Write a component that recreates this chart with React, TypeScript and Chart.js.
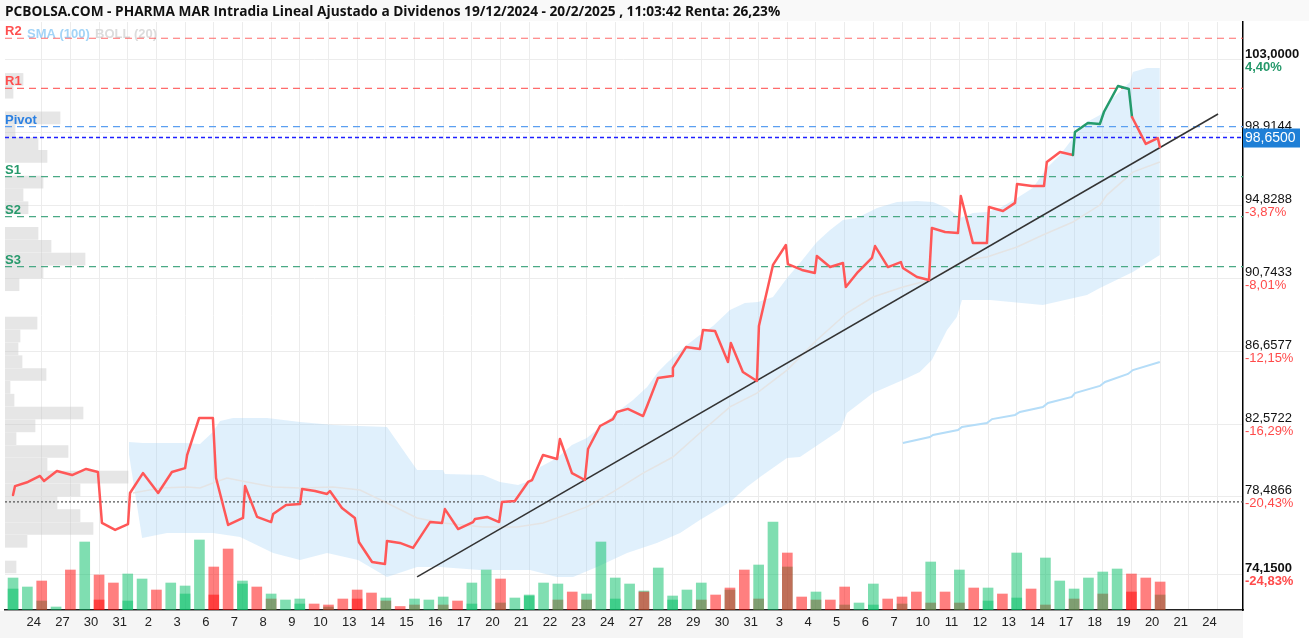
import React, { useEffect, useRef } from 'react';
import { Chart, registerables } from 'chart.js';

Chart.register(...registerables);

const W = 1309;
const H = 638;
const FONT = 'Arial, "Liberation Sans", sans-serif';

const TITLE = 'PCBOLSA.COM - PHARMA MAR Intradia Lineal Ajustado a Dividenos 19/12/2024 - 20/2/2025 , 11:03:42 Renta: 26,23%';
const LEGEND_ITEMS = ['SMA (100)', 'BOLL (20)'];

const DAY_LABELS = ['24', '27', '30', '31', '2', '3', '6', '7', '8', '9', '10', '13', '14', '15', '16', '17', '20', '21', '22', '23', '24', '27', '28', '29', '30', '31', '3', '4', '5', '6', '7', '10', '11', '12', '13', '14', '17', '18', '19', '20', '21', '24'];

const PRICE_TICKS = [103.0, 98.9144, 94.8288, 90.7433, 86.6577, 82.5722, 78.4866, 74.15];
const PRICE_TICK_LABELS = ['103,0000', '98,9144', '94,8288', '90,7433', '86,6577', '82,5722', '78,4866', '74,1500'];
const PCT_LABELS = ['4,40%', '0,27%', '-3,87%', '-8,01%', '-12,15%', '-16,29%', '-20,43%', '-24,83%'];
const LAST_PRICE = 98.65;
const LAST_PRICE_LABEL = '98,6500';

const X_MIN = -0.28;
const X_MAX = 42.89;
const Y_MIN = 72.136;
const Y_MAX = 105.132;

const PRICE_X = [0.00, 0.07, 0.52, 0.94, 1.08, 1.53, 2.06, 2.55, 2.96, 3.10,
  3.56, 4.01, 4.08, 4.53, 5.06, 5.54, 6.00, 6.07, 6.49, 6.97,
  7.08, 7.50, 8.02, 8.09, 8.51, 9.00, 9.07, 9.52, 10.01, 10.08,
  10.53, 10.95, 11.05, 11.47, 11.92, 12.06, 12.52, 12.97, 13.04, 13.49,
  13.95, 14.54, 14.96, 15.06, 15.52, 16.04, 16.11, 16.53, 16.95, 17.05,
  17.50, 17.96, 18.10, 18.48, 18.97, 19.07, 19.49, 19.94, 20.05, 20.47,
  20.92, 21.06, 21.44, 21.97, 22.11, 22.49, 22.98, 23.01, 23.47, 23.95,
  24.06, 24.48, 24.93, 25.03, 25.45, 25.94, 26.01, 26.50, 26.95, 27.02,
  27.51, 27.96, 28.03, 28.49, 28.94, 29.04, 29.46, 29.95, 30.06, 30.51,
  30.96, 31.03, 31.52, 31.94, 32.04, 32.50, 32.95, 33.05, 33.47, 33.96,
  34.03, 34.52, 34.94, 35.01, 35.53, 35.95, 36.05, 36.51, 36.96, 37.03,
  37.48, 37.90, 38.04, 38.53, 38.91, 39.02, 39.50, 39.92, 39.99];
const PRICE_Y = [78.59, 79.09, 79.32, 79.66, 79.38, 79.94, 79.71, 80.05, 79.88, 77.02,
  76.63, 76.96, 78.70, 79.82, 78.70, 79.88, 80.10, 80.83, 82.91, 82.91,
  79.54, 76.91, 77.30, 79.09, 77.36, 77.07, 77.52, 78.03, 78.08, 78.93,
  78.81, 78.65, 78.81, 77.86, 77.30, 75.95, 74.83, 74.72, 76.01, 75.90,
  75.62, 77.07, 77.02, 77.80, 76.68, 77.07, 77.24, 77.36, 77.07, 78.20,
  78.25, 79.32, 79.43, 80.83, 80.61, 81.73, 79.82, 79.43, 81.17, 82.46,
  82.85, 83.25, 83.42, 83.02, 83.58, 85.16, 85.27, 85.72, 86.89, 86.78,
  87.85, 87.79, 86.05, 87.12, 85.49, 84.99, 88.07, 91.50, 92.62, 91.55,
  91.22, 91.05, 92.00, 91.38, 91.61, 90.26, 91.10, 91.89, 92.56, 91.38,
  91.66, 91.33, 90.82, 90.65, 93.57, 93.35, 93.29, 95.37, 92.73, 92.73,
  94.75, 94.53, 94.98, 96.04, 95.93, 95.93, 97.28, 97.84, 97.67, 98.96,
  99.47, 99.41, 100.08, 101.54, 101.37, 99.80, 98.29, 98.62, 98.12];
const GREEN_FROM = 108;
const GREEN_TO = 114;

const BB_UP_X = [4.04, 4.53, 6.00, 6.52, 6.97, 7.22, 7.67, 8.86, 10.01, 11.16,
  13.04, 14.09, 14.99, 15.06, 16.39, 16.98, 17.61, 18.10, 18.38, 18.97,
  19.49, 20.01, 20.47, 21.06, 21.62, 22.11, 22.49, 22.80, 23.36, 23.95,
  24.41, 25.00, 25.52, 25.98, 26.50, 26.99, 27.44, 28.03, 28.49, 28.94,
  29.43, 30.13, 30.82, 31.52, 32.08, 32.57, 33.02, 33.47, 33.96, 34.41,
  35.01, 35.56, 36.05, 36.51, 36.96, 37.45, 37.90, 38.35, 38.95, 39.05,
  39.54, 39.99];
const BB_UP_Y = [81.56, 81.51, 81.51, 81.45, 82.12, 82.74, 82.91, 82.91, 82.69, 82.52,
  82.41, 79.99, 79.99, 79.77, 79.71, 79.32, 79.15, 79.43, 80.16, 80.67,
  81.40, 81.79, 82.41, 83.25, 83.92, 84.65, 85.49, 86.00, 86.84, 87.57,
  88.07, 88.97, 89.36, 89.42, 89.70, 90.77, 91.61, 92.79, 93.46, 94.02,
  94.13, 94.69, 95.03, 95.09, 95.03, 94.69, 94.13, 94.41, 94.47, 94.69,
  95.26, 95.82, 96.94, 97.67, 98.62, 99.52, 99.91, 100.87, 101.77, 102.33,
  102.55, 102.55];
const BB_LO_X = [4.04, 4.50, 5.37, 6.97, 7.92, 9.07, 10.01, 10.95, 12.03, 13.04,
  14.09, 14.89, 16.28, 18.03, 18.97, 19.53, 20.36, 21.41, 22.45, 23.26,
  23.95, 25.00, 25.59, 26.05, 26.99, 27.44, 28.84, 29.08, 29.99, 31.03,
  31.62, 32.04, 32.57, 32.91, 33.09, 34.07, 35.91, 37.45, 37.90, 39.05,
  39.99];
const BB_LO_Y = [80.90, 76.18, 76.46, 76.46, 76.23, 75.33, 74.94, 75.33, 74.94, 73.99,
  74.55, 74.55, 74.38, 74.38, 73.99, 73.99, 74.55, 75.33, 75.90, 76.46,
  77.19, 78.20, 79.04, 79.60, 80.67, 80.72, 82.24, 83.19, 84.31, 85.04,
  85.49, 86.17, 87.85, 88.58, 89.53, 89.53, 89.25, 89.81, 90.21, 91.10,
  92.06];
const BB_MID_X = [4.18, 5.13, 6.07, 6.52, 6.97, 7.46, 8.16, 9.07, 10.01, 11.16,
  12.10, 13.04, 14.09, 14.99, 16.39, 17.57, 18.48, 19.07, 20.01, 20.92,
  21.97, 23.01, 23.95, 25.00, 25.94, 26.99, 28.03, 29.08, 29.99, 31.03,
  31.97, 33.19, 33.96, 35.01, 35.91, 36.96, 37.90, 38.14, 39.05, 39.99];
const BB_MID_Y = [78.70, 78.98, 79.04, 78.98, 79.26, 79.54, 79.32, 79.04, 78.98, 79.04,
  78.87, 78.14, 77.30, 77.02, 76.79, 76.79, 77.02, 77.36, 77.92, 78.76,
  79.82, 80.72, 82.07, 83.53, 84.31, 85.60, 87.29, 88.80, 89.70, 90.26,
  90.65, 91.78, 91.95, 92.51, 93.18, 93.91, 94.86, 95.42, 96.71, 97.28];

const SMA_X = [31.03, 31.97, 32.08, 32.95, 33.09, 33.96, 34.14, 34.94, 35.11, 35.91, 36.09, 36.92, 37.03, 37.90, 38.08, 38.88, 39.05, 39.99];
const SMA_Y = [81.51, 81.84, 81.96, 82.24, 82.41, 82.63, 82.85, 83.08, 83.25, 83.53, 83.75, 84.09, 84.31, 84.71, 84.93, 85.38, 85.60, 86.05];

const TREND_X = [14.09, 42.02];
const TREND_Y = [73.99, 99.97];

const REF_LEVEL = 78.2;

const LEVEL_NAMES = ['R2', 'R1', 'Pivot', 'S1', 'S2', 'S3'];
const LEVEL_VALUES = [104.22, 101.41, 99.26, 96.45, 94.21, 91.40];
const LEVEL_LINE_COLORS = ['rgba(255,82,82,0.85)', 'rgba(255,82,82,0.85)', '#5b9ff0', '#4aa985', '#4aa985', '#4aa985'];
const LEVEL_TEXT_COLORS = ['#ff4f4f', '#ff4f4f', '#2b80e2', '#26996b', '#26996b', '#26996b'];

// half-day volume bars
const VOL_MAIN = [32, 23, 29, 3, 40, 68, 35, 27, 36, 31,
  20, 27, 24, 70, 43, 61, 29, 23, 16, 10,
  11, 6, 5, 11, 20, 17, 12, 3.5, 11, 10,
  13, 9, 27, 40, 31, 12, 15, 27, 26, 18,
  16, 68, 32, 26, 18, 42, 14, 20, 27, 15,
  22, 40, 45, 88, 57, 13, 18, 10, 23, 7,
  26, 11, 13, 18, 48, 18, 40, 22, 22, 16,
  57, 21, 52, 29, 21, 32, 38, 41, 36, 32,
  28];
const VOL_MAIN_UP = [1, 1, 0, 1, 0, 1, 0, 0, 1, 1,
  0, 1, 1, 1, 0, 0, 1, 0, 1, 1,
  1, 0, 0, 0, 0, 0, 1, 0, 1, 1,
  1, 0, 1, 1, 0, 1, 1, 1, 1, 0,
  1, 1, 1, 1, 0, 1, 1, 1, 1, 0,
  0, 0, 1, 1, 0, 0, 1, 0, 0, 1,
  1, 0, 0, 0, 1, 0, 1, 0, 1, 0,
  1, 0, 1, 1, 1, 1, 1, 1, 0, 0,
  0];
// opening volume per day
const VOL_OPEN = [21, 9, 0, 10, 9, 0, 16, 15, 26, 11,
  6, 3, 11, 9, 5, 5, 6, 7, 14, 10,
  10, 11, 19, 10, 10, 20, 11, 43, 10, 5,
  5, 6, 7, 7, 9, 12, 5, 11, 16, 18,
  15];
const VOL_OPEN_UP = [1, 1, 1, 0, 1, 1, 1, 0, 1, 0,
  1, 1, 0, 0, 0, 0, 1, 1, 1, 0,
  0, 1, 1, 1, 0, 1, 0, 1, 0, 1,
  1, 1, 0, 0, 1, 1, 0, 0, 0, 0,
  1];

// volume profile by price
const PROFILE_PRICE = [101.91, 101.19, 99.75, 99.03, 98.31, 97.59, 96.15, 95.43, 94.71, 93.27,
  92.55, 91.83, 91.11, 90.39, 88.23, 87.51, 86.79, 86.07, 85.35, 84.63,
  83.91, 83.19, 82.47, 81.75, 81.03, 80.31, 79.59, 78.87, 78.15, 77.43,
  76.71, 75.99, 74.55];
const PROFILE_VOL = [18, 8, 55, 10, 33, 42, 38, 18, 23, 33,
  46, 80, 38, 14, 32, 15, 13, 17, 41, 5,
  9, 78, 30, 11, 63, 42, 123, 75, 52, 75,
  88, 22, 11];

const RED = '#ff5757';
const GREEN = '#249b6c';
const UP = 'rgba(0,190,100,0.5)';
const DOWN = 'rgba(255,0,0,0.5)';

const pts = (xs: number[], ys: number[]) => xs.map((x, i) => ({ x, y: ys[i] }));

const backdrop = {
  id: 'backdrop',
  beforeDraw(chart: any) {
    const { ctx, chartArea } = chart;
    ctx.save();
    ctx.fillStyle = '#ffffff';
    ctx.fillRect(0, 0, W, H);
    ctx.fillStyle = '#f9f9f9';
    ctx.fillRect(0, 0, W, 21);
    ctx.fillStyle = '#f5f5f5';
    ctx.fillRect(0, chartArea.bottom + 1, chartArea.right, H - chartArea.bottom - 1);
    ctx.restore();
  },
  beforeDatasetsDraw(chart: any) {
    const { ctx, chartArea } = chart;
    ctx.save();
    ctx.font = `bold 13px ${FONT}`;
    ctx.textBaseline = 'middle';
    ctx.textAlign = 'left';
    ctx.fillStyle = '#a3d4f7';
    ctx.fillText(LEGEND_ITEMS[0], chartArea.left + 22, 34);
    ctx.fillStyle = '#dcdcdc';
    ctx.fillText(LEGEND_ITEMS[1], chartArea.left + 90, 34);
    ctx.restore();
  },
};

const overlay = {
  id: 'overlay',
  afterDraw(chart: any) {
    const { ctx, chartArea } = chart;
    const y = chart.scales.y;
    ctx.save();
    // title
    ctx.font = 'bold 13.7px "Open Sans", sans-serif';
    ctx.fillStyle = '#111';
    ctx.textBaseline = 'middle';
    ctx.textAlign = 'left';
    ctx.fillText(TITLE, 5, 12);

    // pivot labels
    ctx.font = `bold 13px ${FONT}`;
    ctx.textBaseline = 'alphabetic';
    LEVEL_VALUES.forEach((v, i) => {
      const py = y.getPixelForValue(v);
      ctx.fillStyle = LEVEL_TEXT_COLORS[i];
      ctx.fillText(LEVEL_NAMES[i], chartArea.left, py - 3);
    });

    // right axis labels
    const x0 = chartArea.right + 2;
    ctx.textBaseline = 'middle';
    PRICE_TICKS.forEach((v, i) => {
      const py = y.getPixelForValue(v);
      const bold = i === 0 || i === PRICE_TICKS.length - 1;
      ctx.font = `${bold ? 'bold ' : ''}13px ${FONT}`;
      ctx.fillStyle = '#111';
      ctx.fillText(PRICE_TICK_LABELS[i], x0, py - 6);
      const neg = PCT_LABELS[i].startsWith('-');
      ctx.font = `${bold || !neg ? 'bold ' : ''}13px ${FONT}`;
      ctx.fillStyle = neg ? '#ff4a4a' : '#26996b';
      ctx.fillText(PCT_LABELS[i], x0, py + 7);
    });

    // last price box
    const lp = y.getPixelForValue(LAST_PRICE);
    ctx.fillStyle = '#1f7fd6';
    ctx.fillRect(chartArea.right, lp - 9, 57, 19);
    ctx.fillStyle = '#ffffff';
    ctx.font = `14px ${FONT}`;
    ctx.fillText(LAST_PRICE_LABEL, x0, lp + 0.5);
    ctx.restore();
  },
};

export default function App() {
  const ref = useRef<HTMLCanvasElement>(null);

  useEffect(() => {
    const canvas = ref.current;
    if (!canvas) return;

    const levelSets = LEVEL_VALUES.map((v, i) => ({
      type: 'line',
      data: [{ x: X_MIN, y: v }, { x: X_MAX, y: v }],
      borderColor: LEVEL_LINE_COLORS[i],
      borderWidth: 1.2,
      borderDash: [7, 5],
      pointRadius: 0,
      fill: false,
      order: 4,
    }));

    const datasets: any[] = [
      {
        type: 'line',
        data: pts(PRICE_X, PRICE_Y),
        borderColor: RED,
        borderWidth: 2.5,
        pointRadius: 0,
        tension: 0,
        fill: false,
        borderJoinStyle: 'round',
        borderCapStyle: 'round',
        segment: {
          borderColor: (c: any) => (c.p0DataIndex >= GREEN_FROM && c.p0DataIndex <= GREEN_TO ? GREEN : RED),
        },
        order: 0,
      },
      {
        type: 'line',
        data: pts(TREND_X, TREND_Y),
        borderColor: '#333333',
        borderWidth: 1.5,
        pointRadius: 0,
        fill: false,
        order: 1,
      },
      {
        type: 'bar',
        data: VOL_MAIN.map((v, j) => ({ x: j / 2, y: v })),
        yAxisID: 'yVol',
        backgroundColor: VOL_MAIN_UP.map((u) => (u ? UP : DOWN)),
        borderWidth: 0,
        grouped: false,
        categoryPercentage: 1,
        barPercentage: 1,
        maxBarThickness: 10,
        order: 2,
      },
      {
        type: 'bar',
        data: VOL_OPEN.map((v, d) => ({ x: d, y: v })),
        yAxisID: 'yVol',
        backgroundColor: VOL_OPEN_UP.map((u) => (u ? UP : DOWN)),
        borderWidth: 0,
        grouped: false,
        categoryPercentage: 1,
        barPercentage: 1,
        maxBarThickness: 10,
        order: 3,
      },
      ...levelSets,
      {
        type: 'line',
        data: [{ x: X_MIN, y: LAST_PRICE }, { x: X_MAX, y: LAST_PRICE }],
        borderColor: '#1f1fff',
        borderWidth: 1.3,
        borderDash: [4, 3],
        pointRadius: 0,
        fill: false,
        order: 4,
      },
      {
        type: 'line',
        data: [{ x: X_MIN, y: REF_LEVEL }, { x: X_MAX, y: REF_LEVEL }],
        borderColor: '#555555',
        borderWidth: 1.3,
        borderDash: [2, 2],
        pointRadius: 0,
        fill: false,
        order: 4,
      },
      {
        type: 'line',
        data: pts(SMA_X, SMA_Y),
        borderColor: '#b5ddf8',
        borderWidth: 2,
        pointRadius: 0,
        fill: false,
        order: 5,
      },
      {
        type: 'line',
        data: pts(BB_MID_X, BB_MID_Y),
        borderColor: '#e4e4e4',
        borderWidth: 1.5,
        pointRadius: 0,
        fill: false,
        order: 6,
      },
      {
        type: 'line',
        data: pts(BB_UP_X, BB_UP_Y),
        borderColor: 'rgba(0,0,0,0)',
        borderWidth: 0,
        backgroundColor: 'rgba(160,210,245,0.33)',
        pointRadius: 0,
        fill: '+1',
        order: 7,
      },
      {
        type: 'line',
        data: pts(BB_LO_X, BB_LO_Y),
        borderColor: 'rgba(0,0,0,0)',
        borderWidth: 0,
        pointRadius: 0,
        fill: false,
        order: 7,
      },
      {
        type: 'bar',
        indexAxis: 'y',
        xAxisID: 'xProf',
        yAxisID: 'y',
        data: PROFILE_PRICE.map((p, i) => ({ x: PROFILE_VOL[i], y: p })),
        backgroundColor: 'rgba(200,200,200,0.45)',
        borderWidth: 0,
        grouped: false,
        categoryPercentage: 1,
        barPercentage: 1,
        maxBarThickness: 12,
        order: 9,
      },
    ];

    const chart = new Chart(canvas, {
      type: 'line',
      data: { datasets },
      options: {
        responsive: false,
        animation: false,
        devicePixelRatio: 1,
        events: [],
        layout: { padding: { left: 5, top: 22, right: 0, bottom: 0 } },
        plugins: {
          legend: { display: false },
          tooltip: { enabled: false },
          title: { display: false },
        },
        scales: {
          x: {
            type: 'linear',
            position: 'bottom',
            min: X_MIN,
            max: X_MAX,
            offset: false,
            grid: { color: '#ececec', offset: false, drawTicks: false },
            border: { display: true, color: '#222222', width: 1.5 },
            ticks: {
              autoSkip: false,
              maxRotation: 0,
              padding: 5,
              labelOffset: -8,
              color: '#222222',
              font: { family: FONT, size: 13 },
              callback: (v: any) => DAY_LABELS[Math.round(Number(v)) - 1] ?? '',
            },
            afterBuildTicks: (s: any) => {
              s.ticks = DAY_LABELS.map((_, i) => ({ value: i + 1 }));
            },
            afterFit: (s: any) => {
              s.height = 28;
            },
          },
          y: {
            type: 'linear',
            position: 'right',
            min: Y_MIN,
            max: Y_MAX,
            offset: false,
            grid: { color: '#ececec', offset: false, drawTicks: false },
            border: { display: true, color: '#000000', width: 1.5 },
            ticks: { display: false },
            afterBuildTicks: (s: any) => {
              s.ticks = PRICE_TICKS.map((v) => ({ value: v }));
            },
            afterFit: (s: any) => {
              s.width = 66;
            },
          },
          yVol: {
            type: 'linear',
            position: 'left',
            display: false,
            min: 0,
            max: 588,
          },
          xProf: {
            type: 'linear',
            axis: 'x',
            position: 'bottom',
            display: false,
            min: 0,
            max: 1238,
          },
        },
      } as any,
      plugins: [backdrop, overlay],
    } as any);

    return () => chart.destroy();
  }, []);

  return (
    <div style={{ position: 'absolute', left: 0, top: 0, width: W, height: H, background: '#fff' }}>
      <canvas ref={ref} width={W} height={H} style={{ display: 'block', width: W, height: H }} />
    </div>
  );
}
